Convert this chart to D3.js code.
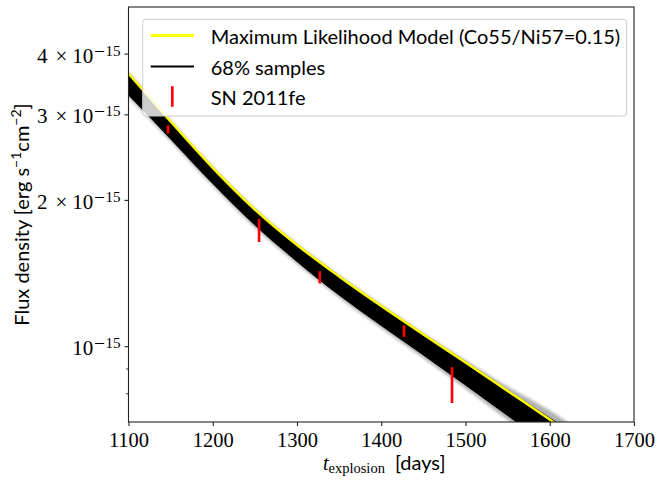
<!DOCTYPE html>
<html>
<head>
<meta charset="utf-8">
<script src="https://cdn.jsdelivr.net/npm/d3@7"></script>
<style>
  body { margin: 0; background: #ffffff; }
  svg { display: block; }
</style>
</head>
<body>
<svg id="chart" width="661" height="480"></svg>
<script>
// Late-time light curve of SN 2011fe against the decay model

// days since explosion at which the model curves are sampled
const days = [1100, 1150, 1200, 1250, 1300, 1350, 1400, 1450, 1500, 1550, 1600, 1620];
// maximum-likelihood model flux (erg s^-1 cm^-2)
const modelFlux = [3.648e-15, 2.906e-15, 2.333e-15, 1.915e-15, 1.619e-15, 1.395e-15,
                   1.2125e-15, 1.0594e-15, 9.28e-16, 8.108e-16, 7.08e-16, 6.70e-16];
// envelope of the 68% posterior samples
const samplesHigh = [3.670e-15, 2.920e-15, 2.345e-15, 1.925e-15, 1.627e-15, 1.402e-15,
                     1.219e-15, 1.065e-15, 9.33e-16, 8.15e-16, 7.15e-16, 6.78e-16];
const samplesLow = [3.287e-15, 2.670e-15, 2.161e-15, 1.775e-15, 1.494e-15, 1.274e-15,
                    1.103e-15, 9.59e-16, 8.32e-16, 7.20e-16, 6.23e-16, 5.87e-16];
// faint outliers among the samples
const outerHigh = [3.675e-15, 2.925e-15, 2.350e-15, 1.929e-15, 1.630e-15, 1.405e-15,
                   1.221e-15, 1.067e-15, 9.38e-16, 8.28e-16, 7.39e-16, 7.02e-16];
const outerLow = [3.255e-15, 2.645e-15, 2.141e-15, 1.758e-15, 1.479e-15, 1.261e-15,
                  1.091e-15, 9.47e-16, 8.19e-16, 7.07e-16, 6.08e-16, 5.72e-16];

// SN 2011fe photometry
const obsDays = [1147, 1255, 1327, 1427, 1484];
const obsFlux = [2.80e-15, 1.737e-15, 1.39e-15, 1.077e-15, 8.37e-16];
const obsErr = [0.055e-15, 0.095e-15, 0.04e-15, 0.03e-15, 0.71e-16];

// axis ticks
const xTicks = [1100, 1200, 1300, 1400, 1500, 1600, 1700];
const yMajor = [1e-15];
const yMinorLabelled = [2e-15, 3e-15, 4e-15];
const yMinor = [8e-16, 9e-16];

const legendLabels = ["Maximum Likelihood Model (Co55/Ni57=0.15)", "68% samples", "SN 2011fe"];

const SERIF = "'Liberation Serif', 'DejaVu Serif', serif";
const SANS = "Lato, 'Open Sans', 'DejaVu Sans', sans-serif";

const svg = d3.select("#chart");
const pLeft = 128.5, pRight = 634, pTop = 7, pBottom = 422;

const x = d3.scaleLinear().domain([1100, 1700]).range([pLeft, pRight]);
const y = d3.scaleLog().domain([7e-16, 5e-15]).range([pBottom, pTop]);

const defs = svg.append("defs");
defs.append("clipPath").attr("id", "plotClip")
  .append("rect").attr("x", pLeft).attr("y", pTop)
  .attr("width", pRight - pLeft).attr("height", pBottom - pTop);
defs.append("filter").attr("id", "soft")
  .attr("x", "-5%").attr("y", "-5%").attr("width", "110%").attr("height", "110%")
  .append("feGaussianBlur").attr("stdDeviation", 0.6);
defs.append("filter").attr("id", "haze")
  .attr("x", "-5%").attr("y", "-5%").attr("width", "110%").attr("height", "110%")
  .append("feGaussianBlur").attr("stdDeviation", 1.6);

const plot = svg.append("g").attr("clip-path", "url(#plotClip)");

const idx = d3.range(days.length);
const bandArea = (hi, lo) => d3.area()
  .x(i => x(days[i])).y0(i => y(lo[i])).y1(i => y(hi[i]))
  .curve(d3.curveMonotoneX);

// faint spread of the samples
plot.append("path").datum(idx)
  .attr("d", bandArea(outerHigh, outerLow))
  .attr("fill", "#000").attr("fill-opacity", 0.3)
  .attr("filter", "url(#haze)");

// dense 68% band
plot.append("path").datum(idx)
  .attr("d", bandArea(samplesHigh, samplesLow))
  .attr("fill", "#000")
  .attr("filter", "url(#soft)");

// maximum-likelihood model
plot.append("path").datum(idx)
  .attr("d", d3.line().x(i => x(days[i])).y(i => y(modelFlux[i])).curve(d3.curveMonotoneX))
  .attr("fill", "none").attr("stroke", "#ffff00").attr("stroke-width", 2.4);

// observations as error bars
plot.selectAll("line.obs").data(d3.range(obsDays.length)).enter()
  .append("line").attr("class", "obs")
  .attr("x1", i => x(obsDays[i])).attr("x2", i => x(obsDays[i]))
  .attr("y1", i => y(obsFlux[i] + obsErr[i])).attr("y2", i => y(obsFlux[i] - obsErr[i]))
  .attr("stroke", "#ff0000").attr("stroke-width", 2.6);

// frame
svg.append("rect").attr("x", pLeft).attr("y", pTop)
  .attr("width", pRight - pLeft).attr("height", pBottom - pTop)
  .attr("fill", "none").attr("stroke", "#222").attr("stroke-width", 1.1);

// x axis
const xAxis = svg.append("g").attr("transform", `translate(0,${pBottom})`)
  .call(d3.axisBottom(x).tickValues(xTicks).tickSize(4).tickPadding(6).tickFormat(d3.format("d")));
xAxis.select(".domain").remove();
xAxis.selectAll(".tick line").attr("stroke", "#222").attr("stroke-width", 1.1);
xAxis.selectAll(".tick text").attr("font-family", SERIF).attr("font-size", 20.5)
  .attr("fill", "#000").attr("dy", "0.75em");

// y axis ticks
const yAxisG = svg.append("g");
yAxisG.selectAll("line.major").data(yMajor.concat(yMinorLabelled)).enter()
  .append("line").attr("x1", pLeft - 4).attr("x2", pLeft)
  .attr("y1", d => y(d)).attr("y2", d => y(d))
  .attr("stroke", "#222").attr("stroke-width", 1.1);
yAxisG.selectAll("line.minor").data(yMinor).enter()
  .append("line").attr("x1", pLeft - 2.5).attr("x2", pLeft)
  .attr("y1", d => y(d)).attr("y2", d => y(d))
  .attr("stroke", "#222").attr("stroke-width", 0.9);

// y tick labels in scientific notation
const yLabelData = yMajor.map(v => ({v, mant: null}))
  .concat(yMinorLabelled.map(v => ({v, mant: Math.round(v / 1e-15)})));
yLabelData.forEach(d => {
  const t = yAxisG.append("text")
    .attr("x", pLeft - 8).attr("y", y(d.v) + 8.5)
    .attr("text-anchor", "end")
    .attr("font-family", SERIF).attr("font-size", 21).attr("fill", "#000");
  if (d.mant !== null) {
    t.append("tspan").text(String(d.mant));
    t.append("tspan").attr("dx", 8).text("\u00d7");
    t.append("tspan").attr("dx", 5).text("10");
  } else {
    t.append("tspan").text("10");
  }
  t.append("tspan").attr("font-family", "'DejaVu Serif', serif").attr("font-size", 14.5)
    .attr("dy", -7).text("\u2212");
  t.append("tspan").attr("font-size", 15).text("15");
});

// axis labels
const yl = svg.append("text")
  .attr("transform", `translate(28.5,${(pTop + pBottom) / 2}) rotate(-90)`)
  .attr("text-anchor", "middle")
  .attr("font-family", SANS).attr("font-size", 20).attr("fill", "#000");
yl.append("tspan").text("Flux density [erg s");
yl.append("tspan").attr("font-size", 14).attr("dy", -8).text("\u22121");
yl.append("tspan").attr("dy", 8).text("cm");
yl.append("tspan").attr("font-size", 14).attr("dy", -8).text("\u22122");
yl.append("tspan").attr("dy", 8).text("]");

const xl = svg.append("text")
  .attr("x", (pLeft + pRight) / 2 + 3).attr("y", 470)
  .attr("text-anchor", "middle").attr("fill", "#000");
xl.append("tspan").attr("font-family", SERIF).attr("font-style", "italic").attr("font-size", 20).text("t");
xl.append("tspan").attr("font-family", SERIF).attr("font-size", 14.5).attr("dy", 3).text("explosion");
xl.append("tspan").attr("font-family", SANS).attr("font-size", 20).attr("dy", -3).text("\u2002[days]");

// legend
const lg = svg.append("g");
lg.append("rect").attr("x", 142.7).attr("y", 19.3).attr("width", 484).attr("height", 96.7)
  .attr("rx", 3).attr("fill", "#fff").attr("fill-opacity", 0.8)
  .attr("stroke", "#cccccc").attr("stroke-width", 1);
const rowsY = [35.5, 66.5, 96.5];
lg.append("line").attr("x1", 150.7).attr("x2", 194).attr("y1", rowsY[0]).attr("y2", rowsY[0])
  .attr("stroke", "#ffff00").attr("stroke-width", 3);
lg.append("line").attr("x1", 150.7).attr("x2", 194).attr("y1", rowsY[1]).attr("y2", rowsY[1])
  .attr("stroke", "#000").attr("stroke-width", 2.2);
lg.append("line").attr("x1", 172.3).attr("x2", 172.3).attr("y1", rowsY[2] - 10.3).attr("y2", rowsY[2] + 10.3)
  .attr("stroke", "#ff0000").attr("stroke-width", 2.6);
lg.selectAll("text.lab").data(legendLabels).enter().append("text")
  .attr("class", "lab")
  .attr("x", 210.7).attr("y", (d, i) => rowsY[i] + 8)
  .attr("font-family", SANS).attr("font-size", 20).attr("fill", "#000")
  .text(d => d);
</script>
</body>
</html>
